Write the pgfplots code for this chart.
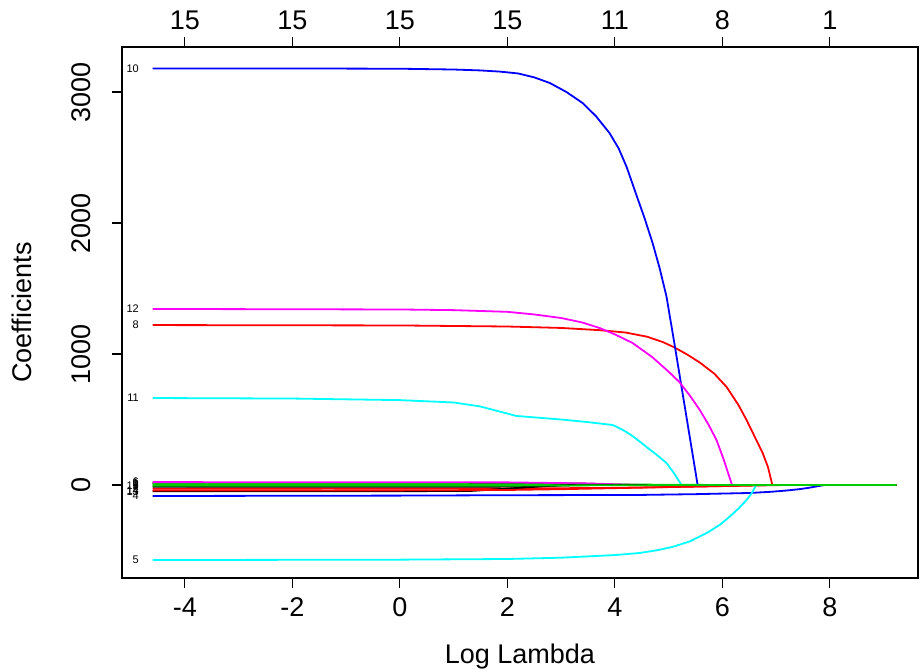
\documentclass[border=0pt]{standalone}
\usepackage{fontspec}
\setmainfont{Liberation Sans}
\usepackage{pgfplots}
\pgfplotsset{compat=1.18}
\definecolor{rgreen}{HTML}{00CD00}
\definecolor{rblue}{HTML}{0000FF}
\definecolor{rred}{HTML}{FF0000}
\definecolor{rcyan}{HTML}{00FFFF}
\definecolor{rmag}{HTML}{FF00FF}
\tikzset{lbl/.style={anchor=east,inner sep=0pt,font=\fontsize{5.5}{6}\selectfont}}

\begin{document}
\begin{tikzpicture}
\useasboundingbox (-61pt,-47pt) rectangle (399pt,289pt);
\begin{axis}[
 scale only axis,width=398pt,height=265.5pt,
 xmin=-5.17,xmax=9.64,ymin=-710,ymax=3344,
 xtick={-4,-2,0,2,4,6,8},xticklabels={-4,-2,0,2,4,6,8},
 ytick={0,1000,2000,3000},yticklabels={0,1000,2000,3000},
 xtick pos=bottom,ytick pos=left,tick align=outside,major tick length=5pt,
 tick style={black,line width=0.6pt},axis line style={line width=0.7pt},
 ticklabel style={font=\fontsize{13.5}{15}\selectfont},
 yticklabel style={rotate=90,anchor=south},
 yticklabel shift=7pt,xticklabel shift=1.5pt,
 clip mode=individual,
 every axis plot/.append style={line width=0.9pt,no marks},
]
% 1
\addplot[black] coordinates {(-4.6,15)(2,14)(3.55,10)(4,0)(9.24,0)};
% 2
\addplot[rred] coordinates {(-4.6,-28)(2,-27)(4,-22)(5.5,-12)(6.5,-5)(7.2,0)(9.24,0)};
% 3
\addplot[rgreen] coordinates {(-4.6,8)(3,6)(5,2)(6,0)(9.24,0)};
% 4
\addplot[rblue] coordinates {(-4.6,-84)(0,-81)(2,-78)(4.46,-76)(5.5,-70)(6.5,-61)(6.9,-52)(7.2,-42)(7.45,-31)(7.6,-22)(7.75,-11)(7.9,0)(9.24,0)};
% 5
\addplot[rcyan] coordinates {(-4.6,-573)(0,-570)(2,-565)(3,-555)(4,-535)(4.46,-519)(4.8,-497)(5.07,-473)(5.4,-430)(5.71,-366)(5.95,-305)(6.13,-244)(6.3,-180)(6.45,-115)(6.55,-60)(6.63,0)(9.24,0)};
% 6
\addplot[rmag] coordinates {(-4.6,22)(2,20)(3.5,12)(4.5,0)(9.24,0)};
% 7
\addplot[black] coordinates {(-4.6,-14)(1,-14)(2,-12)(3,-4)(3.5,0)(9.24,0)};
% 8
\addplot[rred] coordinates {(-4.6,1221)(0,1218)(2,1210)(3,1199)(3.72,1182)(4.2,1164)(4.6,1132)(4.9,1090)(5.11,1050)(5.35,995)(5.58,935)(5.85,850)(6.08,748)(6.3,610)(6.45,496)(6.6,370)(6.75,244)(6.85,135)(6.93,0)(9.24,0)};
% 9
\addplot[rgreen] coordinates {(-4.6,2)(4,1)(5,0)(9.24,0)};
% 10
\addplot[rblue] coordinates {(-4.6,3180)(-2,3180)(0,3178)(1,3172)(1.5,3165)(1.86,3156)(2.2,3142)(2.5,3112)(2.79,3069)(3.1,3000)(3.4,2916)(3.65,2815)(3.9,2687)(4.07,2570)(4.22,2427)(4.42,2191)(4.55,2040)(4.7,1850)(4.83,1660)(4.96,1440)(5.11,1075)(5.3,600)(5.54,0)(9.24,0)};
% 11
\addplot[rcyan] coordinates {(-4.6,664)(-2,660)(0,648)(1,630)(1.49,600)(2.17,527)(3,500)(3.5,480)(3.96,458)(4.15,420)(4.3,382)(4.45,336)(4.59,290)(4.78,230)(4.96,168)(5.1,90)(5.24,0)(9.24,0)};
% 12
\addplot[rmag] coordinates {(-4.6,1344)(0,1340)(1,1335)(2,1322)(2.5,1302)(3,1275)(3.4,1240)(3.72,1198)(4.0,1150)(4.33,1084)(4.7,975)(5.0,865)(5.2,786)(5.4,680)(5.58,573)(5.75,455)(5.89,344)(6.02,200)(6.1,100)(6.18,0)(9.24,0)};
% 13
\addplot[black] coordinates {(-4.6,-48)(0,-47)(1.3,-46)(2.85,-5)(3.2,0)(9.24,0)};
% 14
\addplot[rred] coordinates {(-4.6,-42)(0,-41)(2,-38)(3,-32)(4.5,-20)(6,-8)(6.8,0)(9.24,0)};
% 15
\addplot[rgreen] coordinates {(-4.6,-6)(2,-5)(4,-2)(5.5,0)(9.24,0)};

\node[lbl] at (axis cs:-4.85,3180) {10};
\node[lbl] at (axis cs:-4.85,1344) {12};
\node[lbl] at (axis cs:-4.85,1221) {8};
\node[lbl] at (axis cs:-4.85,664) {11};
\node[lbl] at (axis cs:-4.85,-573) {5};
\node[lbl] at (axis cs:-4.85,-84) {4};
\node[lbl] at (axis cs:-4.85,22) {6};
\node[lbl] at (axis cs:-4.85,15) {1};
\node[lbl] at (axis cs:-4.85,8) {3};
\node[lbl] at (axis cs:-4.85,2) {9};
\node[lbl] at (axis cs:-4.85,-6) {15};
\node[lbl] at (axis cs:-4.85,-14) {7};
\node[lbl] at (axis cs:-4.85,-28) {2};
\node[lbl] at (axis cs:-4.85,-42) {14};
\node[lbl] at (axis cs:-4.85,-48) {13};

\node[anchor=base,font=\fontsize{13.5}{15}\selectfont] at ([yshift=-43pt]axis description cs:0.5,0) {Log Lambda};
\node[rotate=90,anchor=base,font=\fontsize{13.5}{15}\selectfont] at ([xshift=-45pt]axis description cs:0,0.5) {Coefficients};
\end{axis}
\begin{axis}[
 scale only axis,width=398pt,height=265.5pt,
 xmin=-5.17,xmax=9.64,ymin=-710,ymax=3344,
 axis x line*=top,axis y line=none,
 xtick={-4,-2,0,2,4,6,8},xticklabels={15,15,15,15,11,8,1},
 tick align=outside,major tick length=5pt,
 tick style={black,line width=0.6pt},axis line style={line width=0.7pt},
 ticklabel style={font=\fontsize{13.5}{15}\selectfont},
]
\end{axis}
\end{tikzpicture}
\end{document}
